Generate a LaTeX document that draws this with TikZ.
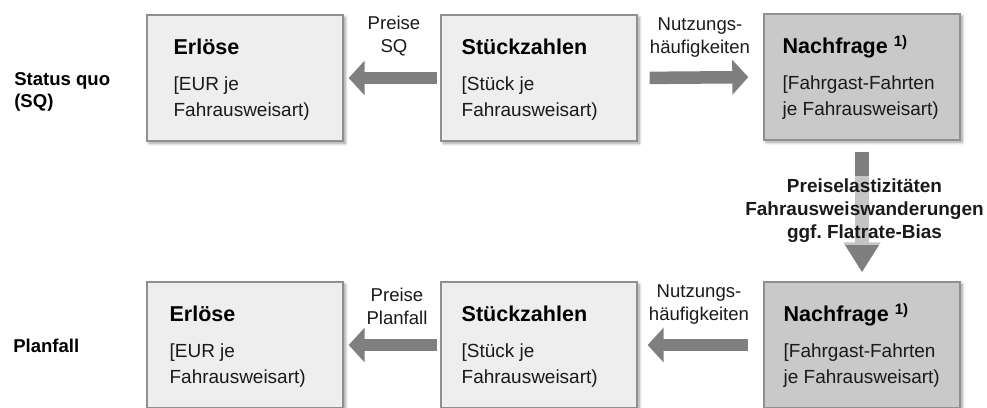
\documentclass[tikz,border=0pt]{standalone}
\usepackage{fontspec}
\setmainfont{Liberation Sans}
\usepackage{xcolor}
\usepackage{tikz}
\usetikzlibrary{positioning,arrows.meta,calc,shadows.blur}
\frenchspacing

\definecolor{boxlight}{HTML}{EEEEEE}
\definecolor{boxdark}{HTML}{C9C9C9}
\definecolor{boxline}{HTML}{8F8F8F}
\definecolor{arrgray}{HTML}{7F7F7F}
\definecolor{txtgray}{HTML}{1A1A1A}

\begin{document}
\begin{tikzpicture}[
    x=0.25mm, y=-0.25mm,
    box/.style={draw=boxline, line width=0.9pt, fill=#1, minimum width=49mm,
                minimum height=31.5mm, inner sep=0pt,
                blur shadow={shadow xshift=1.6pt, shadow yshift=-1.6pt, shadow blur steps=6}},
    box/.default={boxlight},
    ttl/.style={anchor=base west, inner sep=0pt, text=black,
                font=\fontsize{15.3}{18}\selectfont\bfseries},
    txt/.style={anchor=base west, inner sep=0pt, text=txtgray,
                font=\fontsize{13.5}{16}\selectfont},
    lbl/.style={anchor=base, align=center, inner sep=0pt, text=txtgray,
                font=\fontsize{13.2}{16.3}\selectfont},
    side/.style={anchor=base west, align=left, inner sep=0pt, text=black,
                 font=\fontsize{13.2}{15.6}\selectfont\bfseries},
    arr/.style={-{Triangle[length=11.4pt, width=24.2pt]}, line width=8.9pt, arrgray},
    varr/.style={-{Triangle[length=21.3pt, width=25pt]}, line width=10pt, arrgray},
]
\useasboundingbox (0,0) rectangle (987,407);

% ===== Row labels (base = last line) =====
\node[side] (sq) at (14,107) {Status quo\\(SQ)};
\node[side] (pf) at (13,352) {Planfall};

% ===== Boxes: status quo (top) and Planfall (bottom) =====
\node[box]          (erl1) at (245,78)  {};
\node[box]          (stk1) at (539,78)  {};
\node[box=boxdark]  (nf1)  at (862,77)  {};
\node[box]          (erl2) at (245,345) {};
\node[box]          (stk2) at (539,345) {};
\node[box=boxdark]  (nf2)  at (862,345) {};

% ===== Box texts =====
\foreach \bx/\dx/\hd/\la/\lb in {
    erl1/27/{Erlöse}/{[EUR je}/{Fahrausweisart)},
    stk1/21/{Stückzahlen}/{[Stück je}/{Fahrausweisart)},
    nf1/19/{Nachfrage \textsuperscript{1)}}/{[Fahrgast-Fahrten}/{je Fahrausweisart)},
    erl2/23/{Erlöse}/{[EUR je}/{Fahrausweisart)},
    stk2/21/{Stückzahlen}/{[Stück je}/{Fahrausweisart)},
    nf2/20/{Nachfrage \textsuperscript{1)}}/{[Fahrgast-Fahrten}/{je Fahrausweisart)}}{
  \node[ttl] (\bx-t) at ($(\bx.north west)+(\dx,40)$)  {\hd};
  \node[txt] (\bx-a) at ($(\bx.north west)+(\dx,76)$)  {\la};
  \node[txt] (\bx-b) at ($(\bx.north west)+(\dx,102)$) {\lb};
}

% ===== Horizontal arrows =====
\draw[arr, shorten <=2.1pt, shorten >=3.6pt] (stk1.west) -- (erl1.east);
\draw[arr, shorten <=8.5pt, shorten >=10.7pt] (stk1.east) -- (nf1.west);
\draw[arr, shorten <=2.1pt, shorten >=3.6pt] (stk2.west) -- (erl2.east);
\draw[arr, shorten <=10.7pt, shorten >=7.1pt] (nf2.west) -- (stk2.east);

% ===== Arrow labels (base = last line) =====
\node[lbl] (prs1) at (394,52)  {Preise\\SQ};
\node[lbl] (nut1) at (700,53)  {Nutzungs-\\häufigkeiten};
\node[lbl] (prs2) at (397,324) {Preise\\Planfall};
\node[lbl] (nut2) at (699,320) {Nutzungs-\\häufigkeiten};

% ===== Nachfrage SQ --> Nachfrage Planfall =====
\draw[varr, shorten <=7.8pt, shorten >=6.4pt] (nf1.south) -- (nf2.north);
\node[anchor=base, align=center, inner sep=2pt, fill=white, fill opacity=0.55,
      text opacity=1, text=txtgray, font=\fontsize{13.5}{16.2}\selectfont\bfseries]
    (elas) at (864.5,238) {Preiselastizitäten\\Fahrausweiswanderungen\\ggf. Flatrate-Bias};

\end{tikzpicture}
\end{document}
